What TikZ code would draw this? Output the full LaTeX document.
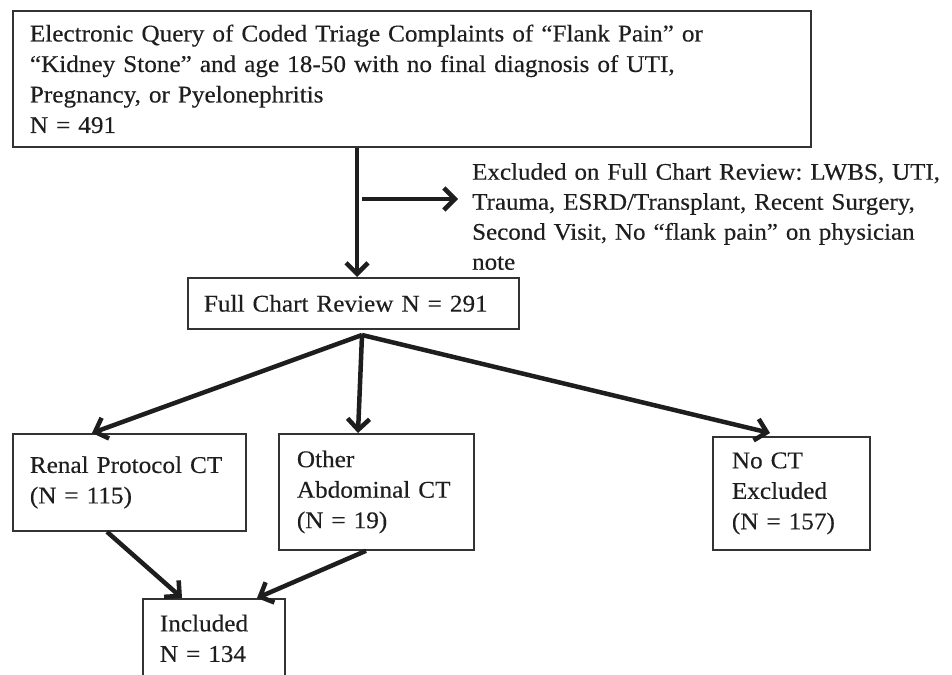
\documentclass[tikz,border=0pt]{standalone}
\usepackage{fontspec}
\setmainfont{Liberation Serif}[FakeStretch=1.05,FakeBold=0.3]
\usetikzlibrary{arrows.meta,calc}
\definecolor{ink}{HTML}{1E1E1E}
\definecolor{boxline}{HTML}{333333}
\tikzset{
  box/.style={draw=boxline, line width=1.8pt, anchor=north west, align=left,
    inner ysep=0pt, text=ink, font=\fontsize{24}{30.5}\selectfont},
  arr/.style={draw=ink, line width=4.5pt, -{Straight Barb[length=11pt,width=22pt]}},
  note/.style={anchor=north west, align=left, inner sep=0pt, text=ink,
    font=\fontsize{23.8}{30}\selectfont}
}
\frenchspacing
\begin{document}
\begin{tikzpicture}[x=1pt,y=-1pt]
\useasboundingbox (0,0) rectangle (952,674);
\fill[white] (0,0) rectangle (952,674);
\clip (0,0) rectangle (952,674);

\node[box, inner xsep=17pt, text width=764pt, minimum height=136pt] (top) at (12,10)
  {Electronic Query of Coded Triage Complaints of “Flank Pain” or\\
   “Kidney Stone” and age 18-50 with no final diagnosis of UTI,\\
   Pregnancy, or Pyelonephritis\\
   N = 491};

\node[note, text width=560pt] (excl) at (472,163)
  {Excluded on Full Chart Review: LWBS, UTI,\\
   Trauma, ESRD/Transplant, Recent Surgery,\\
   Second Visit, No “flank pain” on physician\\
   note};

\node[box, inner xsep=16pt, text width=299pt, minimum height=51pt] (fcr) at (187,277)
  {Full Chart Review N = 291};

\node[box, inner xsep=17pt, text width=199pt, minimum height=97pt] (renal) at (12,433)
  {Renal Protocol CT\\(N = 115)};

\node[box, inner xsep=18pt, text width=159pt, minimum height=116pt] (other) at (278,433)
  {Other\\Abdominal CT\\(N = 19)};

\node[box, inner xsep=19pt, text width=119pt, minimum height=113pt] (noct) at (712,436)
  {No CT\\Excluded\\(N = 157)};

\node[box, inner xsep=17pt, text width=108pt, minimum height=79pt] (incl) at (142,598)
  {Included\\N = 134};

\coordinate (vx) at (357,0);
\coordinate (sa) at (362,199);
\coordinate (br) at (362,335);

\draw[arr] (top.south -| vx) -- (fcr.north -| vx);
\draw[arr] (sa) -- ([xshift=-14pt]excl.west |- sa);

\draw[arr] (br) -- ($(renal.north west)+(80,0)$);
\draw[arr] (br) -- ($(other.north west)+(80,0)$);
\draw[arr] (br) -- ($(noct.north west)+(58,-3)$);

\draw[arr] ($(renal.south west)+(95,0)$) -- ($(incl.north west)+(40,0)$);
\draw[arr] ($(other.south west)+(88,0)$) -- ($(incl.north west)+(115,0)$);
\end{tikzpicture}
\end{document}
